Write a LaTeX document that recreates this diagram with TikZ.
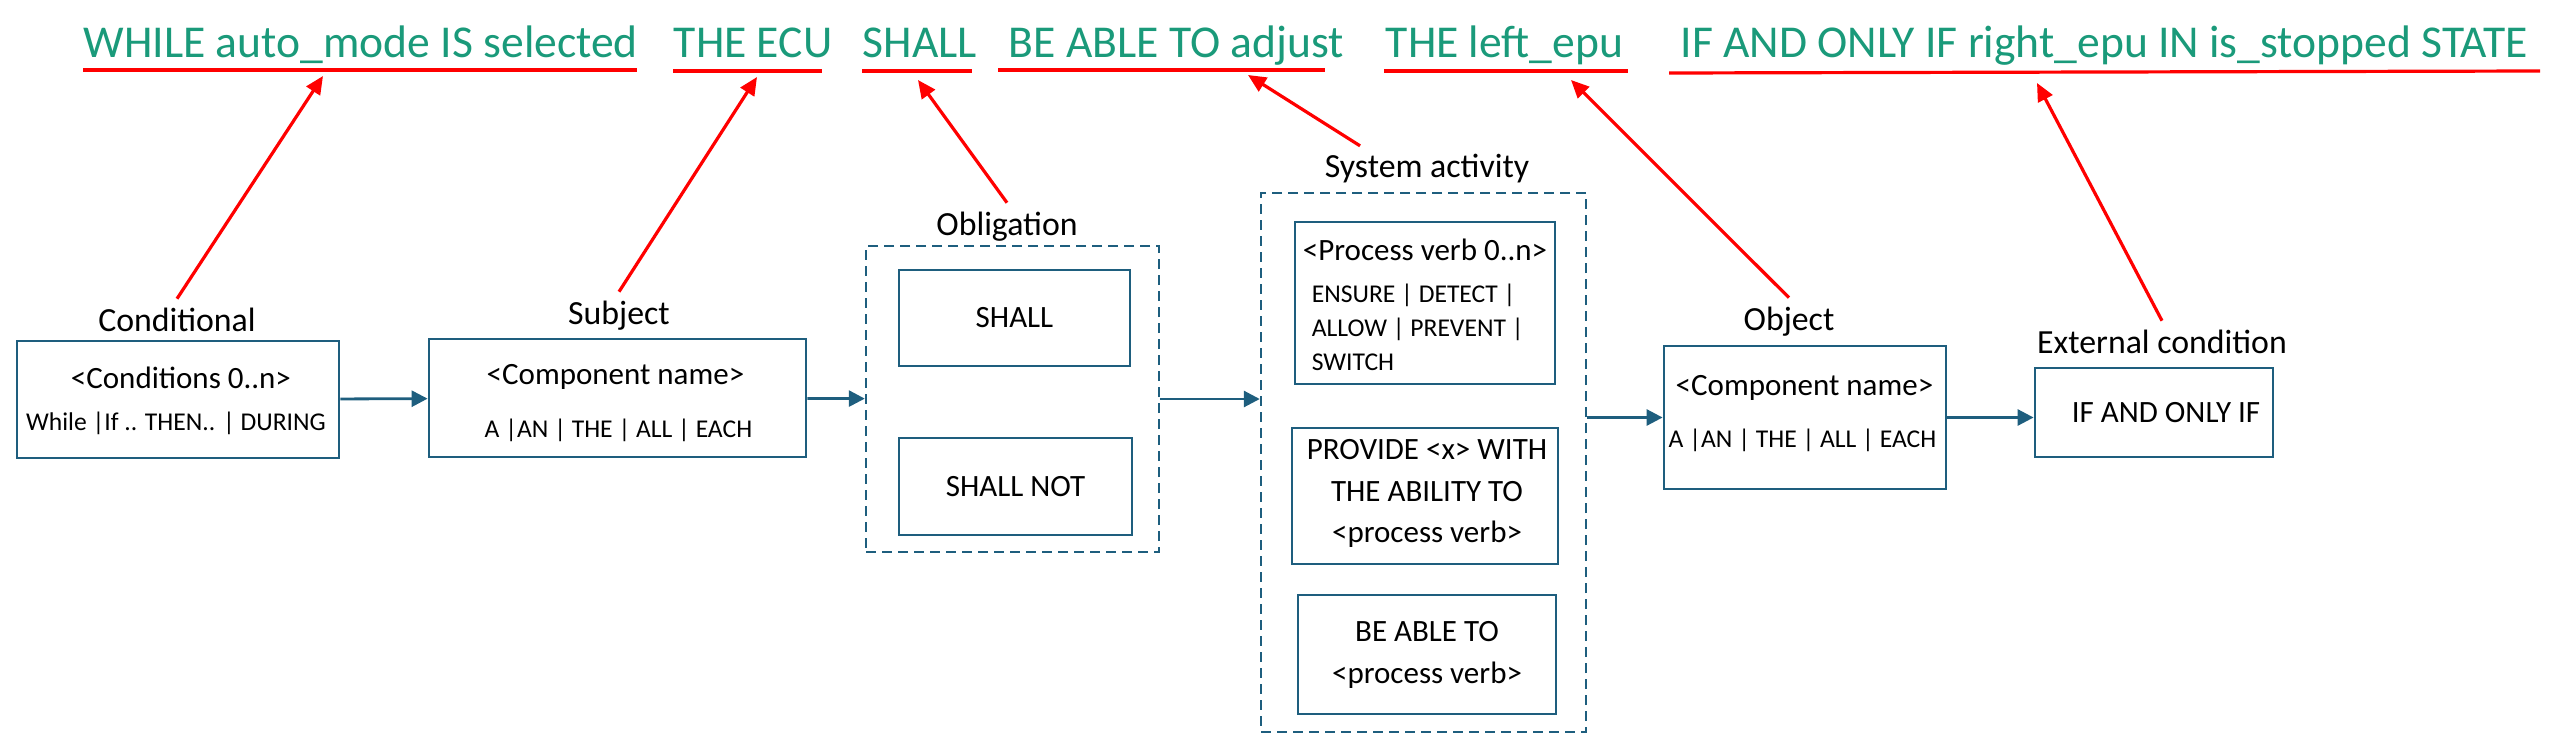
\documentclass[tikz,border=0pt]{standalone}
\usepackage{fontspec}
\setmainfont{Carlito}
\usetikzlibrary{arrows.meta,positioning}
\definecolor{boxblue}{RGB}{30,94,126}
\definecolor{reqgreen}{RGB}{26,154,122}
\newcommand{\bigtxt}{\fontsize{11.4pt}{13pt}\selectfont}
\newcommand{\lbltxt}{\fontsize{8.45pt}{10pt}\selectfont}
\newcommand{\maintxt}{\fontsize{7.75pt}{9pt}\selectfont}
\newcommand{\subtxt}{\fontsize{6.4pt}{8pt}\selectfont}
\begin{document}
\begin{tikzpicture}[x=0.25pt, y=-0.25pt,
    box/.style={draw=boxblue, line width=0.7pt, inner sep=0pt},
    grp/.style={draw=boxblue, line width=0.6pt, dash pattern=on 2.5pt off 1.5pt, inner sep=0pt},
    lbl/.style={font=\lbltxt, inner sep=2pt, anchor=base},
    txt/.style={inner sep=0pt, anchor=base},
    req/.style={font=\bigtxt, text=reqgreen, inner sep=0pt, anchor=base west},
    uline/.style={red, line width=0.8pt},
    ptr/.style={red, line width=0.8pt, -{Triangle[length=4.5pt,width=4pt]}},
    flow/.style={draw=boxblue, line width=0.7pt, -{Triangle[length=4pt,width=4pt]}}]
        \useasboundingbox (0,0) rectangle (2563,739);
        % requirement sentence
        \node[req] (rwhile) at (83,57) {WHILE auto\_mode IS selected};
        \node[req] (recu) at (673,57) {THE ECU};
        \node[req] (rshall) at (862,57) {SHALL};
        \node[req] (rable) at (1008,57) {BE ABLE TO adjust};
        \node[req] (repu) at (1385,57) {THE left\_epu};
        \node[req] (rif) at (1680,57) {IF AND ONLY IF right\_epu IN is\_stopped STATE};
        \draw[uline] (83,70) -- (637,70);
        \draw[uline] (673,71) -- (822,71);
        \draw[uline] (862,71) -- (972,71);
        \draw[uline] (998,70) -- (1325,70);
        \draw[uline] (1384,71) -- (1628,71);
        \draw[uline] (1669,73) -- (2540,71);
        \coordinate (t1) at (323,76);
        \coordinate (t2) at (757,77);
        \coordinate (t3) at (918,80);
        \coordinate (t4) at (1248,75);
        \coordinate (t5) at (1571,80);
        \coordinate (t6) at (2037,83);
        % template boxes
        \node[box, minimum width=80.5pt, minimum height=29.25pt] (cond) at (178,399.5) {};
        \node[txt, font=\maintxt] (condhead) at (181,388) {<Conditions 0..n>};
        \node[txt, font=\subtxt] (condsub) at (176,430) {While |If .. THEN.. | DURING};
        \node[lbl] (condl) at (177,331) {Conditional};
        \node[box, minimum width=94.25pt, minimum height=29.5pt] (subj) at (617.5,398) {};
        \node[txt, font=\maintxt] (subjhead) at (615.5,384) {<Component name>};
        \node[txt, font=\subtxt] (subjsub) at (618.5,437) {A |AN | THE | ALL | EACH};
        \node[lbl] (subjl) at (619,324) {Subject};
        \node[grp, minimum width=73.25pt, minimum height=76.5pt] (oblig) at (1012.5,399) {};
        \node[box, font=\maintxt, minimum width=57.75pt, minimum height=24pt] (shall) at (1014.5,318) {SHALL};
        \node[box, font=\maintxt, minimum width=58.25pt, minimum height=24.25pt] (shallnot) at (1015.5,486.5) {SHALL NOT};
        \node[lbl] (obligl) at (1007,235) {Obligation};
        \node[grp, minimum width=81.25pt, minimum height=134.75pt] (sys) at (1423.5,462.5) {};
        \node[box, minimum width=65pt, minimum height=40.5pt] (pv) at (1425,303) {};
        \node[txt, font=\maintxt] (pvhead) at (1425,260) {<Process verb 0..n>};
        \node[txt, anchor=base west, font=\subtxt] (pv1) at (1311,302) {ENSURE | DETECT |};
        \node[txt, anchor=base west, font=\subtxt] (pv2) at (1311,336) {ALLOW | PREVENT |};
        \node[txt, anchor=base west, font=\subtxt] (pv3) at (1311,370) {SWITCH};
        \node[box, minimum width=66.5pt, minimum height=34pt] (prov) at (1425,496) {};
        \node[txt, font=\maintxt] (prov1) at (1427,459) {PROVIDE <x> WITH};
        \node[txt, font=\maintxt] (prov2) at (1427,501) {THE ABILITY TO};
        \node[txt, font=\maintxt] (prov3) at (1427,542) {<process verb>};
        \node[box, minimum width=64.5pt, minimum height=29.75pt] (able) at (1427,654.5) {};
        \node[txt, font=\maintxt] (able1) at (1427,641) {BE ABLE TO};
        \node[txt, font=\maintxt] (able2) at (1427,683) {<process verb>};
        \node[lbl] (sysl) at (1427,178) {System activity};
        \node[box, minimum width=70.5pt, minimum height=35.75pt] (obj) at (1805,417.5) {};
        \node[txt, font=\maintxt] (objhead) at (1804.5,395) {<Component name>};
        \node[txt, font=\subtxt] (objsub) at (1802.5,447) {A |AN | THE | ALL | EACH};
        \node[lbl] (objl) at (1789,330) {Object};
        \node[box, font=\maintxt, minimum width=59.5pt, minimum height=22.25pt] (ext) at (2154,412.5) {\hspace{6pt}IF AND ONLY IF};
        \node[lbl] (extl) at (2162,353) {External condition};
        % flow
        \draw[flow] (cond) -- (subj);
        \draw[flow] (subj) -- (oblig);
        \draw[flow] (oblig.east) -- (oblig.east -| sys.west);
        \draw[flow] (sys.east |- obj.west) -- (obj.west);
        \draw[flow] (obj.east) -- (obj.east -| ext.west);
        % pointers to the sentence
        \draw[ptr] (condl.north) -- (t1);
        \draw[ptr] (subjl.north) -- (t2);
        \draw[ptr] (obligl.north) -- (t3);
        \draw[ptr] ([xshift=11pt]sysl.north west) -- (t4);
        \draw[ptr] (objl.north) -- (t5);
        \draw[ptr] (extl.north) -- (t6);
        \end{tikzpicture}
\end{document}
